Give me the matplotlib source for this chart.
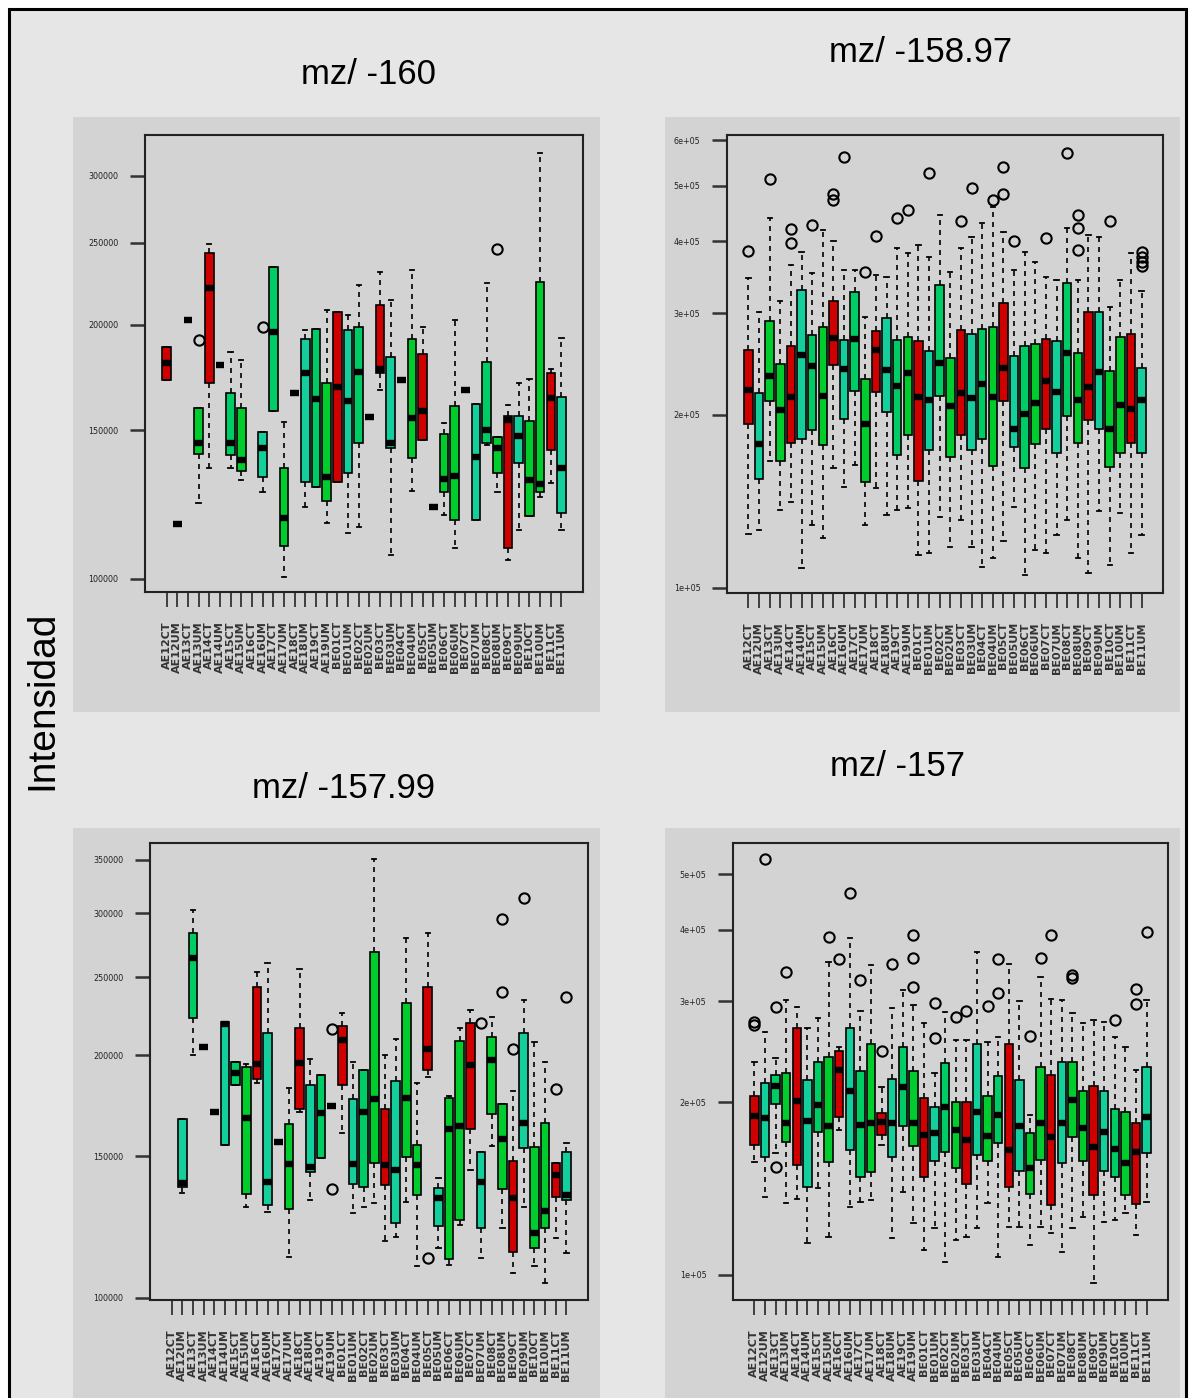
import matplotlib
matplotlib.use("Agg")
import matplotlib.pyplot as plt
from matplotlib.patches import Rectangle

# ---------------- data (intensity values in thousands) ----------------
labels = ["AE12CT", "AE12UM", "AE13CT", "AE13UM", "AE14CT", "AE14UM", "AE15CT", "AE15UM",
          "AE16CT", "AE16UM", "AE17CT", "AE17UM", "AE18CT", "AE18UM", "AE19CT", "AE19UM",
          "BE01CT", "BE01UM", "BE02CT", "BE02UM", "BE03CT", "BE03UM", "BE04CT", "BE04UM",
          "BE05CT", "BE05UM", "BE06CT", "BE06UM", "BE07CT", "BE07UM", "BE08CT", "BE08UM",
          "BE09CT", "BE09UM", "BE10CT", "BE10UM", "BE11CT", "BE11UM"]

titles = ["mz/ -160", "mz/ -158.97", "mz/ -157.99", "mz/ -157"]

# panel 1 : mz/ -160
p1_lo = [172, 116, 202.5, 122.9, 135.2, 179.2, 135.2, 131, None, 126.9, 158.2, 100.6, 165.9, 121.8, 128.4, 116.5, 130.4, 113.3, 115.3, 155.6, 167.4, 106.8, 172, 127.2, 146, 121.8, 119, 108.7, 167.4, 117.4, 144.1, 126.9, 105.3, 114.3, 118.8, 125.1, 129.8, 114.3]
p1_q1 = [172, 116, 202.5, 140.6, 170.5, 179.2, 140.2, 134.3, None, 132.1, 158.2, 109.4, 165.9, 130.4, 128.4, 123.8, 130.4, 133.4, 145, 155.6, 175.2, 142.8, 172, 138.9, 146, 121.8, 126.9, 117.4, 167.4, 117.4, 144.7, 133.6, 108.7, 137, 118.8, 126.9, 142.1, 119.8]
p1_med = [180, 116, 202.5, 144.7, 221.2, 179.2, 144.7, 138.3, None, 142.8, 196.2, 118.2, 165.9, 175.2, 163.2, 132.1, 168.6, 162.6, 175.6, 155.6, 177.1, 144.7, 172, 154.9, 158.2, 121.8, 131.2, 132.3, 167.4, 139.3, 150, 142.8, 154.2, 147.6, 131, 129.4, 163.6, 135.2]
p1_q3 = [188, 116, 202.5, 159.2, 242.9, 179.2, 165.9, 159.2, None, 149.4, 234.2, 135.2, 165.9, 192.2, 197.5, 170.5, 207.2, 197.1, 198.9, 155.6, 211, 183, 172, 192.2, 184.6, 121.8, 148.3, 160.2, 167.4, 161.1, 180.5, 147.1, 155.9, 155.9, 153.9, 224.8, 175.2, 164.1]
p1_hi = [188, 116, 202.5, 159.2, 248.9, 179.2, 185.8, 181.6, None, 149.4, 234.2, 153.5, 165.9, 197.1, 197.5, 208.1, 207.2, 205.3, 222.8, 155.6, 231, 213.9, 172, 232, 198.9, 121.8, 152.8, 202.5, 167.4, 161.1, 223.8, 147.1, 160.7, 170.5, 172.3, 319, 177, 192.7]
p1_out = {3: [192], 9: [198.7], 31: [245.5]}
p1_col = "rkkgrksg-tsgktsgrtskrtkgrkggktsgrtggrt"

# panel 2 : mz/ -158.97
p2_lo = [124, 126, 166, 136.6, 141.2, 108.2, 128.6, 122, 161.4, 150, 163.6, 128.6, 149, 133.9, 136.6, 137.6, 114.1, 114.9, 133, 118, 131.2, 118, 108.9, 112.6, 120.8, 138.4, 105.3, 116.4, 114.9, 123.6, 131.2, 112.6, 106.3, 136.2, 109.6, 134.8, 115.2, 123.6]
p2_q1 = [193, 154.4, 211.5, 166.3, 178.8, 181.2, 188, 177, 244, 196.3, 220, 153, 219, 202.4, 170.5, 184.6, 153.5, 173.7, 215.4, 168.7, 184.6, 174, 181.2, 163, 211.5, 175.5, 161.4, 177.8, 188.7, 171.9, 198.8, 178.8, 195.8, 188.7, 162.1, 171.5, 178.8, 171.5]
p2_med = [221, 177.8, 233.5, 204, 214.7, 253.6, 243, 215.4, 271.5, 239.7, 270.6, 192.7, 259.3, 239, 224.5, 236.5, 214.7, 212, 245.7, 207, 218, 213.5, 226.3, 214.7, 240.7, 188.7, 200.4, 209.5, 229.2, 219, 255.6, 212.1, 223.8, 237.6, 188.7, 208, 205, 212.1]
p2_q3 = [259, 217.9, 291, 245, 263, 329, 274.9, 284.6, 314.7, 269.6, 327, 231, 280, 295, 269.6, 272.5, 268.9, 258.2, 336.6, 250.6, 281, 276, 281.5, 284, 312.5, 253, 263, 265, 270.6, 268.2, 339.4, 256.1, 302, 302, 238.5, 273.3, 276.3, 240.7]
p2_hi = [345, 302, 439, 314.7, 364, 383, 352, 419, 400, 357, 357, 296, 350, 347.6, 389, 381.6, 394, 376.4, 445, 354, 389, 408, 430, 460, 416, 357, 384, 368, 347.6, 342.8, 421.9, 342.8, 410.5, 408, 307.6, 342.8, 381.6, 328.6]
p2_out = {0: [385], 2: [513], 4: [420, 398], 6: [427], 8: [483, 472], 9: [560], 11: [354],
          12: [409], 14: [439], 15: [454], 17: [526], 20: [434.7], 21: [495], 23: [472],
          24: [538, 483], 25: [400], 28: [406], 30: [571], 31: [445, 422, 386], 34: [434.7],
          37: [384, 376, 369, 362]}
p2_col = "rtggrtsgrtsgrtsgrtsgrtsgrtsgrtsgrtggrt"

# panel 3 : mz/ -157.99
p3_lo = [None, 134.9, 200.2, 204.7, 170.3, 154.8, 183.8, 129.8, 184.7, 128, 156.3, 112.5, 170.3, 132.3, 149.2, 173.1, 160.1, 127.4, 129.8, 131.1, 117.5, 119.1, 131.7, 109.6, 187.9, 115.3, 109.9, 123.2, 144.2, 112, 154.4, 122, 107.3, 129.8, 109.6, 104.3, 118.6, 113.6]
p3_q1 = [None, 137.4, 222.4, 204.7, 170.3, 154.8, 183.8, 134.6, 186.8, 130.4, 156.3, 128.8, 171.5, 143.5, 149.2, 173.1, 183.8, 138.5, 137.4, 147.2, 138.1, 124, 149.5, 134.2, 191.8, 122.8, 111.7, 125, 161.9, 122, 169.2, 136.4, 114.1, 153.4, 115.3, 122, 133.3, 132.3]
p3_med = [None, 138.8, 264, 204.7, 170.3, 219, 190, 167.1, 195.1, 139.4, 156.3, 146.6, 195.5, 145.5, 169.5, 173.1, 209, 146.6, 170.3, 176.4, 146.2, 144.2, 177, 146.2, 203.5, 133, 161.9, 163.5, 194.6, 139.4, 197.4, 157.4, 133, 164.7, 120.5, 128.3, 142.1, 134.2]
p3_q3 = [None, 166.7, 284, 204.7, 170.3, 220.2, 196.4, 193.3, 243.3, 213.4, 156.3, 164.4, 216.1, 183.8, 189.1, 173.1, 217.5, 176.4, 191.8, 269, 171.5, 186.1, 232.5, 154.8, 243.3, 136.8, 177, 208.6, 219.2, 151.9, 210.6, 174.1, 148, 213, 154.1, 164.7, 147.2, 151.9]
p3_hi = [None, 166.7, 303, 204.7, 170.3, 220.2, 196.4, 195, 254, 260.6, 156.3, 182.1, 255.8, 197.8, 189.1, 173.1, 225.5, 196.4, 191.8, 350.2, 200.2, 209.4, 279.5, 184.7, 283.5, 140.8, 178, 216.1, 227.7, 151.9, 223.4, 174.1, 180.8, 234.3, 208, 196.4, 147.2, 155.9]
p3_out = {15: [215.4, 136.4], 24: [112], 29: [219.6], 31: [295, 239.9], 32: [203.5],
          33: [313.3], 36: [181.5], 37: [236.5]}
p3_col = "-tskktsgrtkgrtskrtsgrtggrtggrtggrtggrt"

# panel 4 : mz/ -157
p4_lo = [157.6, 137, 163, 133.4, 135.5, 113.6, 141.7, 116.6, 179, 131.6, 134.2, 135.1, 168.6, 115.9, 139.7, 123.4, 110.3, 120.6, 105.5, 115.1, 116.6, 120.6, 133.4, 107.6, 121.4, 121.4, 112.8, 121.1, 118.5, 109.8, 120.6, 126.4, 96.7, 123.9, 124.7, 128.4, 117.4, 134.2]
p4_q1 = [168.6, 160.8, 198.7, 170.8, 155.5, 142.6, 177.8, 157.6, 188.8, 165.2, 148.4, 151.4, 175.5, 160.8, 181.9, 167.9, 148.4, 158.3, 164.1, 153.5, 144.1, 161.9, 158.3, 170.1, 142.6, 152, 138.4, 158.6, 132.5, 157, 174.3, 158.3, 137.9, 152, 148.4, 137.9, 133, 163]
p4_med = [189.4, 187.6, 213.6, 183.9, 201.4, 185.8, 197.9, 181.9, 227.8, 209.7, 182.7, 184.4, 185.1, 183.9, 212.5, 184.4, 175.4, 176.7, 196.6, 179, 172, 192.7, 174.7, 190.1, 165.2, 181.9, 153.5, 184.4, 173.9, 184.4, 202.1, 180.2, 167.4, 177.8, 165.7, 157, 164.1, 188.8]
p4_q3 = [205.2, 216.5, 223.3, 225.4, 269.3, 218.8, 235.5, 240.3, 246.2, 269.3, 227.2, 252.9, 191.9, 219.4, 250.2, 227.2, 203.3, 196.6, 234.6, 200.6, 200.6, 252.9, 205.2, 222.4, 252.9, 218.8, 176.7, 230.3, 223.3, 235.5, 235.5, 209.7, 213.6, 209.7, 194.5, 192.7, 184.4, 230.8]
p4_hi = [235.5, 265.7, 238.7, 301.9, 293.7, 269.3, 280.4, 351.9, 250, 386.6, 289, 347.3, 213, 291.9, 314.1, 295.7, 275.5, 225.4, 287.9, 257, 257, 366.3, 255.2, 260.4, 348.7, 300.9, 190.1, 331.3, 302.6, 301.9, 286, 274.8, 278.5, 276.6, 260.4, 250.2, 227.8, 301.9]
p4_out = {0: [276.6, 272.9], 1: [531], 2: [293.7, 154.1], 3: [338], 7: [389.1], 8: [355.3],
          9: [464.3], 10: [327], 12: [246.2], 13: [348.7], 15: [391.6, 356.8, 318.3],
          17: [298.5, 258.7], 19: [282.2], 20: [289], 22: [294.6], 23: [355.3, 310.7],
          26: [261.1], 27: [356.8], 28: [391.6], 30: [333.5, 330], 34: [278.5],
          36: [315, 296.9], 37: [397]}
p4_col = "rtsgrtsgrtsgrtsgrtsgrtgsrtggrtggrtsgrt"

# y-axis ticks
p1_yticks = [100000, 150000, 200000, 250000, 300000]
p1_ylabels = ["100000", "150000", "200000", "250000", "300000"]
p2_yticks = [100000, 200000, 300000, 400000, 500000, 600000]
p2_ylabels = ["1e+05", "2e+05", "3e+05", "4e+05", "5e+05", "6e+05"]
p3_yticks = [100000, 150000, 200000, 250000, 300000, 350000]
p3_ylabels = ["100000", "150000", "200000", "250000", "300000", "350000"]
p4_yticks = [100000, 200000, 300000, 400000, 500000]
p4_ylabels = ["1e+05", "2e+05", "3e+05", "4e+05", "5e+05"]

# ---------------- style ----------------
SCALE = 1000.0
W, H = 1189, 1398
COLORS = {"r": "#cf0000", "g": "#00cc2e", "s": "#00cc66", "t": "#14cf9c", "k": "black"}
FRAME_BG = "#e6e6e6"
PANEL_BG = "#d3d3d3"

fig = plt.figure(figsize=(W / 100, H / 100), dpi=100)
fig.patch.set_facecolor("white")


def frac_rect(x0, y0, x1, y1):
    return [x0 / W, 1 - y1 / H, (x1 - x0) / W, (y1 - y0) / H]


# outer frame
fig.add_artist(Rectangle((9 / W, -0.01), (1186 - 9) / W, 1 - 9 / H + 0.01,
                         transform=fig.transFigure, facecolor=FRAME_BG,
                         edgecolor="black", linewidth=2.2, zorder=-20))

panels = [
    dict(bg=(73, 117, 600, 712), ax=(145, 135, 583, 592), ylim=(96500, 335300),
         title_xy=(368, 75), lo=p1_lo, q1=p1_q1, med=p1_med, q3=p1_q3, hi=p1_hi,
         out=p1_out, col=p1_col, yt=p1_yticks, yl=p1_ylabels, title=titles[0]),
    dict(bg=(665, 117, 1180, 712), ax=(727, 135, 1163, 593), ylim=(98000, 612500),
         title_xy=(921, 52), lo=p2_lo, q1=p2_q1, med=p2_med, q3=p2_q3, hi=p2_hi,
         out=p2_out, col=p2_col, yt=p2_yticks, yl=p2_ylabels, title=titles[1]),
    dict(bg=(73, 828, 600, 1400), ax=(150, 843, 588, 1300), ylim=(99400, 366900),
         title_xy=(344, 788), lo=p3_lo, q1=p3_q1, med=p3_med, q3=p3_q3, hi=p3_hi,
         out=p3_out, col=p3_col, yt=p3_yticks, yl=p3_ylabels, title=titles[2]),
    dict(bg=(665, 828, 1180, 1400), ax=(733, 843, 1168, 1300), ylim=(90400, 566800),
         title_xy=(897, 766), lo=p4_lo, q1=p4_q1, med=p4_med, q3=p4_q3, hi=p4_hi,
         out=p4_out, col=p4_col, yt=p4_yticks, yl=p4_ylabels, title=titles[3]),
]

for p in panels:
    x0, y0, x1, y1 = p["bg"]
    fig.add_artist(Rectangle((x0 / W, 1 - y1 / H), (x1 - x0) / W, (y1 - y0) / H,
                             transform=fig.transFigure, facecolor=PANEL_BG,
                             edgecolor="none", zorder=-10))
    ax = fig.add_axes(frac_rect(*p["ax"]))
    ax.set_facecolor(PANEL_BG)
    ax.set_yscale("log")

    stats, positions, facecols = [], [], []
    for i in range(len(labels)):
        if p["med"][i] is None:
            continue
        stats.append(dict(whislo=p["lo"][i] * SCALE, q1=p["q1"][i] * SCALE,
                          med=p["med"][i] * SCALE, q3=p["q3"][i] * SCALE,
                          whishi=p["hi"][i] * SCALE,
                          fliers=[v * SCALE for v in p["out"].get(i, [])]))
        positions.append(i + 1)
        facecols.append(COLORS[p["col"][i]])

    bp = ax.bxp(stats, positions=positions, widths=0.8, capwidths=0.4,
                patch_artist=True, showfliers=True, manage_ticks=False,
                boxprops=dict(edgecolor="black", linewidth=1.2),
                whiskerprops=dict(color="black", linewidth=1.2, linestyle=(0, (3.0, 3.0))),
                capprops=dict(color="black", linewidth=1.3),
                medianprops=dict(color="black", linewidth=4.6, solid_capstyle="butt"),
                flierprops=dict(marker="o", markersize=7.4, markerfacecolor="none",
                                markeredgecolor="black", markeredgewidth=1.5))
    for patch, fc in zip(bp["boxes"], facecols):
        patch.set_facecolor(fc)

    ax.set_xlim(-1.02, 40.02)
    ax.set_ylim(*p["ylim"])
    ax.minorticks_off()
    ax.set_yticks(p["yt"])
    ax.set_yticklabels(p["yl"], fontsize=5.8)
    ax.set_xticks(range(1, len(labels) + 1))
    ax.set_xticklabels(labels, rotation=90, fontsize=8, fontweight="semibold",
                       color="#3a3a4a")
    ax.tick_params(axis="y", direction="out", length=11, width=1.8, pad=8,
                   colors="#333333", labelcolor="#222222")
    ax.tick_params(axis="x", direction="out", length=11, width=1.3, pad=10,
                   colors="#333333")
    for sp in ax.spines.values():
        sp.set_linewidth(1.5)
        sp.set_color("#222222")

    tx, ty = p["title_xy"]
    fig.text(tx / W, 1 - ty / H, p["title"], ha="center", va="center",
             fontsize=25, family="Liberation Sans", color="black")

fig.text(42 / W, 1 - 700 / H, "Intensidad", rotation=90, ha="center", va="center",
         fontsize=28, family="Liberation Sans", color="black")

fig.savefig("out.png", dpi=100, facecolor=fig.get_facecolor())
